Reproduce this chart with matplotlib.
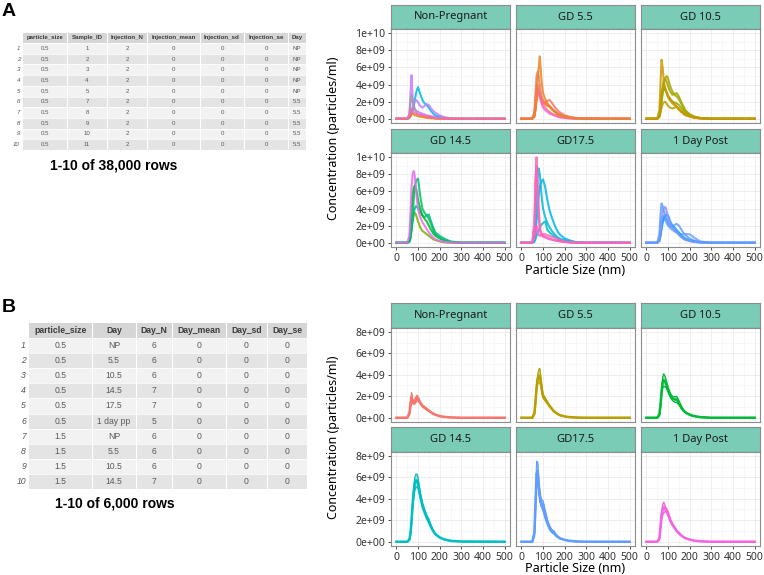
import numpy as np
import matplotlib.pyplot as plt
from matplotlib.patches import Rectangle
from matplotlib.ticker import MultipleLocator

# ---- data ----
days = ["Non-Pregnant", "GD 5.5", "GD 10.5", "GD 14.5", "GD17.5", "1 Day Post"]
size_nm = [0, 40, 50, 60, 65, 70, 75, 80, 85, 90, 95, 100, 110, 120, 130,
           140, 150, 160, 170, 180, 200, 220, 250, 300, 500]

# panel A: individual samples (x1e9 particles/ml)
np_samples = {
    "#C77CFF": [0,0,0,0.5,3.0,5.1,2.5,1.5,1.2,1.0,0.9,0.8,0.7,0.6,0.5,0.4,0.35,0.3,0.25,0.2,0.1,0.05,0,0,0],
    "#00B8E7": [0,0,0,0.1,0.3,0.6,1.0,1.5,2.2,2.9,3.4,3.7,2.9,2.2,1.8,1.6,1.3,0.9,0.6,0.4,0.2,0.1,0,0,0],
    "#9E9E9E": [0,0,0,0.5,1.8,2.7,2.0,1.3,1.0,0.8,0.6,0.5,0.4,0.3,0.25,0.2,0.15,0.1,0.1,0.05,0,0,0,0,0],
    "#B983FF": [0,0,0,0.2,0.6,1.0,1.4,1.8,2.0,2.2,2.1,1.9,1.5,1.3,1.5,1.7,1.6,1.2,0.9,0.7,0.4,0.2,0.05,0,0],
    "#E58700": [0,0,0,0.1,0.3,0.6,0.6,0.5,0.4,0.4,0.35,0.3,0.25,0.2,0.15,0.1,0.1,0.05,0.05,0,0,0,0,0,0],
    "#FF62BC": [0,0,0,0.3,0.8,1.1,0.9,0.7,0.6,0.6,0.6,0.5,0.5,0.4,0.4,0.3,0.25,0.2,0.15,0.1,0.05,0,0,0,0],
}
gd55_samples = {
    "#DE8C00": [0,0,0,0.2,1.0,2.0,2.8,3.2,3.0,2.6,2.3,2.0,1.7,1.5,1.4,1.1,0.9,0.7,0.5,0.4,0.25,0.15,0.05,0,0],
    "#F8766D": [0,0,0,0.3,1.5,2.8,3.2,3.0,2.6,2.2,2.0,1.8,1.9,2.1,2.2,1.9,1.5,1.2,0.9,0.7,0.4,0.25,0.1,0.03,0],
    "#F066EA": [0,0,0,0.4,1.8,3.2,3.6,3.2,2.6,2.0,1.6,1.3,1.0,0.8,0.6,0.5,0.4,0.3,0.2,0.15,0.1,0.05,0,0,0],
    "#FF6C91": [0,0,0,0.5,2.0,3.5,4.0,3.5,3.0,2.5,2.0,1.7,1.3,1.0,0.8,0.6,0.5,0.4,0.3,0.2,0.1,0.05,0,0,0],
    "#F37B59": [0,0,0,0.8,3.0,5.0,5.5,5.0,4.0,3.0,2.5,2.2,1.8,1.6,1.5,1.2,1.0,0.8,0.6,0.5,0.3,0.15,0.05,0,0],
    "#E88526": [0,0,0,0.3,1.0,2.5,4.5,6.0,7.3,5.5,4.0,3.0,2.3,1.8,1.5,1.2,0.9,0.7,0.5,0.4,0.25,0.15,0.05,0,0],
}
gd105_samples = {
    "#B8A000": [0,0,0,0.2,0.7,1.3,1.7,1.9,2.0,1.9,1.7,1.5,1.3,1.2,1.3,1.4,1.2,0.9,0.7,0.5,0.3,0.15,0.05,0,0],
    "#8FAA00": [0,0,0,0.3,1.2,2.3,3.0,3.4,3.5,3.3,3.0,2.7,2.3,2.0,1.9,1.8,1.6,1.3,1.0,0.7,0.4,0.2,0.05,0,0],
    "#C49A00": [0,0,0,0.4,1.5,2.8,3.5,3.8,3.7,3.3,2.9,2.5,2.1,1.8,1.6,1.4,1.1,0.9,0.7,0.5,0.3,0.15,0.05,0,0],
    "#9DA700": [0,0,0,0.3,1.2,2.5,3.8,4.5,4.7,4.6,4.2,3.8,3.2,2.8,2.9,3.0,2.6,2.0,1.5,1.0,0.5,0.25,0.08,0,0],
    "#ABA300": [0,0,0,0.2,0.8,1.8,3.0,4.0,4.6,4.9,5.0,4.7,3.8,3.2,2.8,2.6,2.3,1.8,1.3,0.9,0.5,0.25,0.08,0,0],
    "#CD9600": [0,0,0,1.0,4.0,6.9,6.0,4.5,3.8,3.3,3.0,2.7,2.3,2.0,1.7,1.4,1.1,0.8,0.6,0.4,0.25,0.1,0.03,0,0],
}
gd145_samples = {
    "#7CAE00": [0,0,0,0.2,0.8,1.8,2.8,3.3,3.5,3.3,2.9,2.5,1.8,1.4,1.2,1.0,0.8,0.6,0.4,0.3,0.15,0.05,0,0,0],
    "#00C08B": [0,0,0,0.1,0.6,1.5,2.5,3.4,4.0,4.3,4.2,4.0,3.6,3.2,3.0,3.2,3.3,2.5,1.8,1.2,0.8,0.5,0.15,0,0],
    "#00B81F": [0,0,0,0.3,1.5,3.5,5.5,6.4,6.7,6.5,5.8,5.0,4.0,3.2,2.8,2.5,2.0,1.5,1.1,0.8,0.5,0.25,0.08,0,0],
    "#00BE67": [0,0,0,0.1,0.5,1.5,3.0,5.0,6.5,7.2,7.4,7.5,5.5,4.0,3.5,3.2,2.8,2.2,1.5,1.0,0.6,0.3,0.1,0,0],
    "#E76BF3": [0,0,0,0.8,3.5,6.5,8.0,8.4,7.8,6.5,5.0,4.0,3.0,2.4,2.0,1.6,1.2,0.9,0.6,0.4,0.2,0.1,0.03,0,0],
}
gd175_samples = {
    "#00BFC4": [0,0,0,0.1,0.4,0.8,1.2,1.5,1.8,2.0,2.2,2.3,2.5,1.5,1.2,1.0,0.8,0.6,0.45,0.35,0.2,0.1,0.03,0,0],
    "#00B4EF": [0,0,0,0.2,1.0,2.5,4.0,5.5,6.5,7.0,7.3,7.4,6.5,5.0,3.8,3.0,2.3,1.7,1.2,0.9,0.5,0.3,0.08,0,0],
    "#00BCD8": [0,0,0,0.5,2.5,5.5,7.8,8.7,8.0,6.5,5.0,4.0,3.0,2.3,1.8,1.4,1.1,0.8,0.6,0.45,0.3,0.2,0.05,0,0],
    "#FF61C3": [0,0,0,0.5,1.5,2.0,1.3,0.9,0.8,0.8,0.9,1.0,1.0,0.9,0.8,0.7,0.6,0.5,0.4,0.3,0.15,0.05,0,0,0],
    "#F564E3": [0,0,0,2.5,7.0,9.0,6.0,3.0,1.5,1.0,0.8,0.7,0.6,0.5,0.4,0.35,0.3,0.25,0.2,0.15,0.1,0.05,0,0,0],
    "#FF64B0": [0,0,0,2.0,7.5,10.0,7.0,4.0,2.0,1.3,1.0,0.9,0.7,0.6,0.5,0.4,0.3,0.25,0.2,0.15,0.1,0.05,0,0,0],
}
pp1_samples = {
    "#72A3FF": [0,0,0,0.2,0.8,1.8,2.5,2.8,2.7,2.5,2.2,2.0,1.7,1.5,1.3,1.2,1.1,1.0,1.0,1.0,1.0,0.6,0.15,0,0],
    "#6F9BFF": [0,0,0,0.3,1.2,2.4,3.0,3.2,3.0,2.8,2.5,2.2,1.9,1.9,2.1,2.2,2.0,1.6,1.2,0.9,0.5,0.25,0.08,0,0],
    "#00A9FF": [0,0,0,0.2,0.8,1.6,2.3,2.8,3.1,3.2,3.3,3.2,2.5,2.0,1.8,1.5,1.2,0.9,0.7,0.5,0.3,0.15,0.05,0,0],
    "#9590FF": [0,0,0,0.3,1.2,2.5,3.5,4.0,4.2,4.1,3.5,3.0,2.3,1.8,1.5,1.2,0.9,0.7,0.5,0.35,0.2,0.1,0.03,0,0],
    "#619CFF": [0,0,0,1.0,3.2,4.6,4.3,3.8,3.4,3.0,2.7,2.4,2.0,1.8,1.6,1.3,1.0,0.7,0.5,0.35,0.2,0.1,0.03,0,0],
}
samples_by_day = [np_samples, gd55_samples, gd105_samples, gd145_samples, gd175_samples, pp1_samples]

# panel B: mean per day and standard error (x1e9)
day_colors = ["#F8766D", "#B79F00", "#00BA38", "#00BFC4", "#619CFF", "#F564E3"]
day_mean = [
    [0,0,0,0.4,1.3,1.9,1.5,1.4,1.5,1.7,1.85,1.75,1.4,1.1,0.95,0.8,0.65,0.5,0.38,0.28,0.15,0.08,0.03,0,0],
    [0,0,0,0.4,1.5,2.8,3.6,3.9,3.9,3.3,2.5,2.0,1.7,1.4,1.1,0.85,0.6,0.45,0.32,0.22,0.12,0.06,0.02,0,0],
    [0,0,0,0.3,1.2,2.4,3.3,3.5,3.4,3.2,2.9,2.6,2.1,1.8,1.7,1.7,1.4,1.0,0.7,0.5,0.28,0.15,0.05,0,0],
    [0,0,0,0.2,0.8,2.0,3.5,4.7,5.4,5.7,5.7,5.4,4.3,3.4,2.8,2.3,1.9,1.4,1.0,0.7,0.4,0.22,0.08,0.02,0],
    [0,0,0,0.8,3.5,6.3,6.6,5.2,4.2,3.7,3.5,3.3,2.5,1.8,1.3,1.0,0.85,0.6,0.42,0.3,0.17,0.09,0.03,0,0],
    [0,0,0,0.3,1.4,2.5,3.0,3.2,3.1,3.0,2.8,2.6,2.0,1.6,1.3,1.0,0.8,0.6,0.45,0.33,0.2,0.1,0.04,0,0],
]
day_se = [
    [0,0,0,0.1,0.3,0.45,0.2,0.15,0.2,0.25,0.25,0.2,0.1,0.1,0.1,0.08,0.06,0.05,0.04,0.03,0.02,0.01,0,0,0],
    [0,0,0,0.1,0.2,0.3,0.4,0.6,0.7,0.4,0.25,0.2,0.15,0.1,0.08,0.07,0.05,0.04,0.03,0.02,0.01,0,0,0,0],
    [0,0,0,0.1,0.2,0.3,0.5,0.6,0.5,0.4,0.3,0.25,0.2,0.2,0.25,0.3,0.2,0.12,0.08,0.05,0.03,0.02,0,0,0],
    [0,0,0,0.05,0.15,0.3,0.4,0.5,0.6,0.6,0.6,0.5,0.3,0.25,0.2,0.2,0.2,0.12,0.08,0.05,0.03,0.02,0.01,0,0],
    [0,0,0,0.3,0.8,1.2,0.8,0.6,0.5,0.4,0.4,0.5,0.4,0.25,0.2,0.15,0.15,0.1,0.06,0.04,0.02,0.01,0,0,0],
    [0,0,0,0.1,0.2,0.4,0.5,0.5,0.3,0.2,0.2,0.2,0.15,0.1,0.08,0.07,0.05,0.04,0.03,0.02,0.01,0,0,0,0],
]

# tables
tabA_cols = ["particle_size", "Sample_ID", "Injection_N", "Injection_mean", "Injection_sd", "Injection_se", "Day"]
tabA_rows = [["0.5", sid, "2", "0", "0", "0", d] for sid, d in
             zip(["1", "2", "3", "4", "5", "7", "8", "9", "10", "11"], ["NP"] * 5 + ["5.5"] * 5)]
tabB_cols = ["particle_size", "Day", "Day_N", "Day_mean", "Day_sd", "Day_se"]
tabB_size = ["0.5"] * 6 + ["1.5"] * 4
tabB_day = ["NP", "5.5", "10.5", "14.5", "17.5", "1 day pp", "NP", "5.5", "10.5", "14.5"]
tabB_n = ["6", "6", "6", "7", "7", "5", "6", "6", "6", "7"]
tabB_rows = [[s, d, n, "0", "0", "0"] for s, d, n in zip(tabB_size, tabB_day, tabB_n)]

# ---- figure ----
W, H = 764, 575
fig = plt.figure(figsize=(W / 100, H / 100), dpi=100)
GG = "Noto Sans"
STRIP = "#7ACCB6"


def box(x0, y0, x1, y1):
    return [x0 / W, 1 - y1 / H, (x1 - x0) / W, (y1 - y0) / H]


bg = fig.add_axes([0, 0, 1, 1])
bg.set_xlim(0, W)
bg.set_ylim(H, 0)
bg.axis("off")


def draw_table(cols, rows, edges, top, head_h, row_h, rn_x, fs, hfs):
    x0, x1 = edges[0], edges[-1]
    bg.add_patch(Rectangle((x0, top), x1 - x0, head_h, color="#D6D6D6", lw=0))
    for i, c in enumerate(cols):
        bg.text((edges[i] + edges[i + 1]) / 2, top + head_h / 2, c, ha="center", va="center",
                fontsize=hfs, fontweight="bold", color="#3A3A3A", family="Liberation Sans")
    for r, row in enumerate(rows):
        y = top + head_h + r * row_h
        bg.add_patch(Rectangle((x0, y), x1 - x0, row_h,
                               color="#F2F2F2" if r % 2 == 0 else "#E4E4E4", lw=0))
        bg.text(rn_x, y + row_h / 2, str(r + 1), ha="right", va="center", fontsize=fs,
                style="italic", color="#555555", family="Liberation Sans")
        for i, v in enumerate(row):
            bg.text((edges[i] + edges[i + 1]) / 2, y + row_h / 2, v, ha="center", va="center",
                    fontsize=fs, color="#5A5A5A", family="Liberation Sans")
    bottom = top + head_h + len(rows) * row_h
    for e in edges[1:-1]:
        bg.plot([e, e], [top, bottom], color="white", lw=0.8)
    for r in range(len(rows)):
        y = top + head_h + r * row_h
        bg.plot([x0, x1], [y, y], color="white", lw=0.5)


draw_table(tabA_cols, tabA_rows, [23, 67, 107, 147, 200, 244, 288, 306], 33, 10, 10.7, 20, 4.4, 4.4)
draw_table(tabB_cols, tabB_rows, [29, 92, 136, 172, 226, 267, 307], 323, 15, 15.1, 26, 6.2, 6.2)

bg.text(2, 11, "A", fontsize=14, fontweight="bold", va="center", family="Liberation Sans")
bg.text(2, 308, "B", fontsize=14, fontweight="bold", va="center", family="Liberation Sans")
bg.text(50, 166, "1-10 of 38,000 rows", fontsize=10, fontweight="bold", va="center", family="Liberation Sans")
bg.text(55, 503, "1-10 of 6,000 rows", fontsize=10, fontweight="bold", va="center", family="Liberation Sans")

col_x = [(391, 510), (516, 635), (641, 760)]
rowsA = [((5, 29), (29, 123)), ((129, 153), (153, 247))]
rowsB = [((303, 328), (328, 422)), ((427, 452), (452, 546))]


def make_panel(px, strip_y, panel_y, label, ylim, yticks, left, bottom):
    sx = fig.add_axes(box(px[0], strip_y[0], px[1], strip_y[1]))
    sx.set_facecolor(STRIP)
    sx.set_xticks([])
    sx.set_yticks([])
    for s in sx.spines.values():
        s.set_color("#8C8C8C")
        s.set_linewidth(0.8)
    sx.spines["bottom"].set_color("#1A1A1A")
    sx.text(0.5, 0.5, label, ha="center", va="center", fontsize=8, color="#1A1A1A",
            family=GG, transform=sx.transAxes)
    ax = fig.add_axes(box(px[0], panel_y[0], px[1], panel_y[1]))
    ax.set_xlim(-25, 525)
    ax.set_ylim(*ylim)
    ax.set_xticks([0, 100, 200, 300, 400, 500])
    ax.xaxis.set_minor_locator(MultipleLocator(50))
    ax.set_yticks(yticks)
    ax.yaxis.set_minor_locator(MultipleLocator(yticks[1] / 2))
    ax.grid(which="major", color="#EBEBEB", lw=0.6)
    ax.grid(which="minor", color="#F2F2F2", lw=0.4)
    ax.set_axisbelow(True)
    for s in ax.spines.values():
        s.set_color("#8C8C8C")
        s.set_linewidth(0.8)
    ax.tick_params(which="minor", length=0)
    ax.tick_params(which="major", length=2.5, width=0.6, color="#333333", labelsize=7.5,
                   labelcolor="#333333", pad=1.5)
    if left:
        ax.set_yticklabels(["%.0e" % v for v in yticks], family=GG)
    else:
        ax.tick_params(axis="y", length=0, labelleft=False)
    if bottom:
        ax.set_xticklabels([str(v) for v in [0, 100, 200, 300, 400, 500]], family=GG)
    else:
        ax.tick_params(axis="x", length=0, labelbottom=False)
    return ax


yA = [0, 2e9, 4e9, 6e9, 8e9, 1e10]
yB = [0, 2e9, 4e9, 6e9, 8e9]
x = np.array(size_nm)

for k, label in enumerate(days):
    r, c = divmod(k, 3)
    ax = make_panel(col_x[c], rowsA[r][0], rowsA[r][1], label, (-0.5e9, 10.5e9), yA, c == 0, r == 1)
    for col, vals in samples_by_day[k].items():
        ax.plot(x, np.array(vals) * 1e9, color=col, lw=1.5, alpha=0.85)

    ax = make_panel(col_x[c], rowsB[r][0], rowsB[r][1], label, (-0.4e9, 8.35e9), yB, c == 0, r == 1)
    m = np.array(day_mean[k]) * 1e9
    se = np.array(day_se[k]) * 1e9
    ax.fill_between(x, m - se, m + se, facecolor="#9E9E9E", alpha=0.45,
                    edgecolor=day_colors[k], lw=0.7)
    ax.plot(x, m - se, color=day_colors[k], lw=0.8)
    ax.plot(x, m + se, color=day_colors[k], lw=0.8)
    ax.plot(x, m, color=day_colors[k], lw=1.8)

for yc, xt in [(138, 271), (437, 568)]:
    fig.text(333 / W, 1 - yc / H, "Concentration (particles/ml)", rotation=90, ha="center",
             va="center", fontsize=9, family=GG)
    fig.text(575 / W, 1 - xt / H, "Particle Size (nm)", ha="center", va="center",
             fontsize=9, family=GG)

fig.savefig("out.png", dpi=100)
